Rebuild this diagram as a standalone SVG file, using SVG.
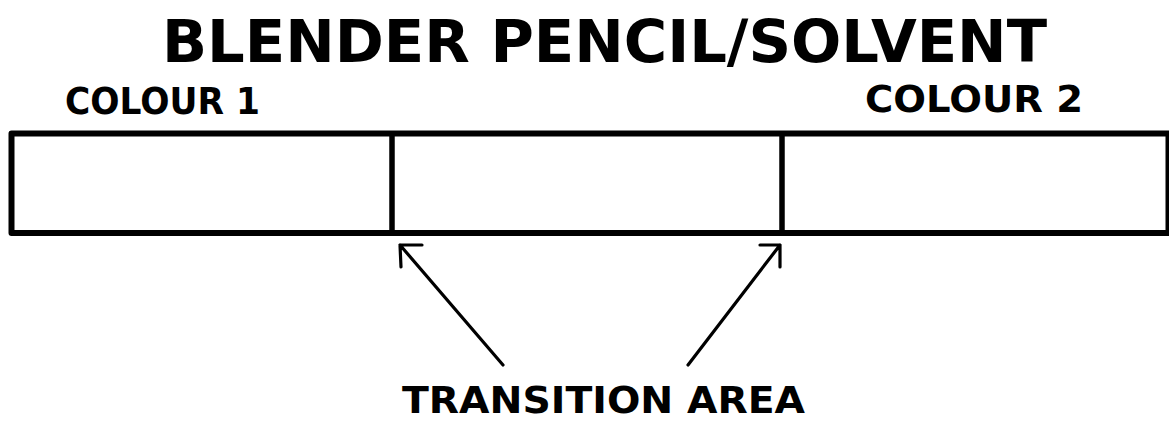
<svg xmlns="http://www.w3.org/2000/svg" width="1169" height="422" viewBox="0 0 1169 422">
  <style>
    .lbl { font-family: "DejaVu Sans", "Liberation Sans", sans-serif; font-weight: bold; fill: #000; }
    .box { fill: #fff; stroke: #000; stroke-width: 6; stroke-linejoin: round; }
    .div { stroke: #000; stroke-width: 5.5; }
    .arr { fill: none; stroke: #000; stroke-width: 3.2; stroke-linecap: round; stroke-linejoin: round; }
  </style>
  <rect width="1169" height="422" fill="#fff"/>
  <g id="title">
    <text class="lbl" x="162" y="62" font-size="59" textLength="885" lengthAdjust="spacingAndGlyphs">BLENDER PENCIL/SOLVENT</text>
  </g>
  <g id="colour1-label">
    <text class="lbl" x="65" y="114" font-size="38" textLength="195" lengthAdjust="spacingAndGlyphs">COLOUR 1</text>
  </g>
  <g id="colour2-label">
    <text class="lbl" x="865" y="111.5" font-size="38" textLength="218" lengthAdjust="spacingAndGlyphs">COLOUR 2</text>
  </g>
  <g id="bar">
    <rect class="box" x="11.5" y="133.5" width="1157" height="99.5"/>
    <line class="div" x1="392" y1="133.5" x2="392" y2="233"/>
    <line class="div" x1="782" y1="133.5" x2="782" y2="233"/>
  </g>
  <g id="connectors">
    <path class="arr" d="M503,365 L400,245 M422,245 L400,245 L401,267"/>
    <path class="arr" d="M688,365 L780,245 M760,245 L780,245 L780,267"/>
  </g>
  <g id="transition-label">
    <text class="lbl" x="402" y="413" font-size="38" textLength="403" lengthAdjust="spacingAndGlyphs">TRANSITION AREA</text>
  </g>
</svg>
